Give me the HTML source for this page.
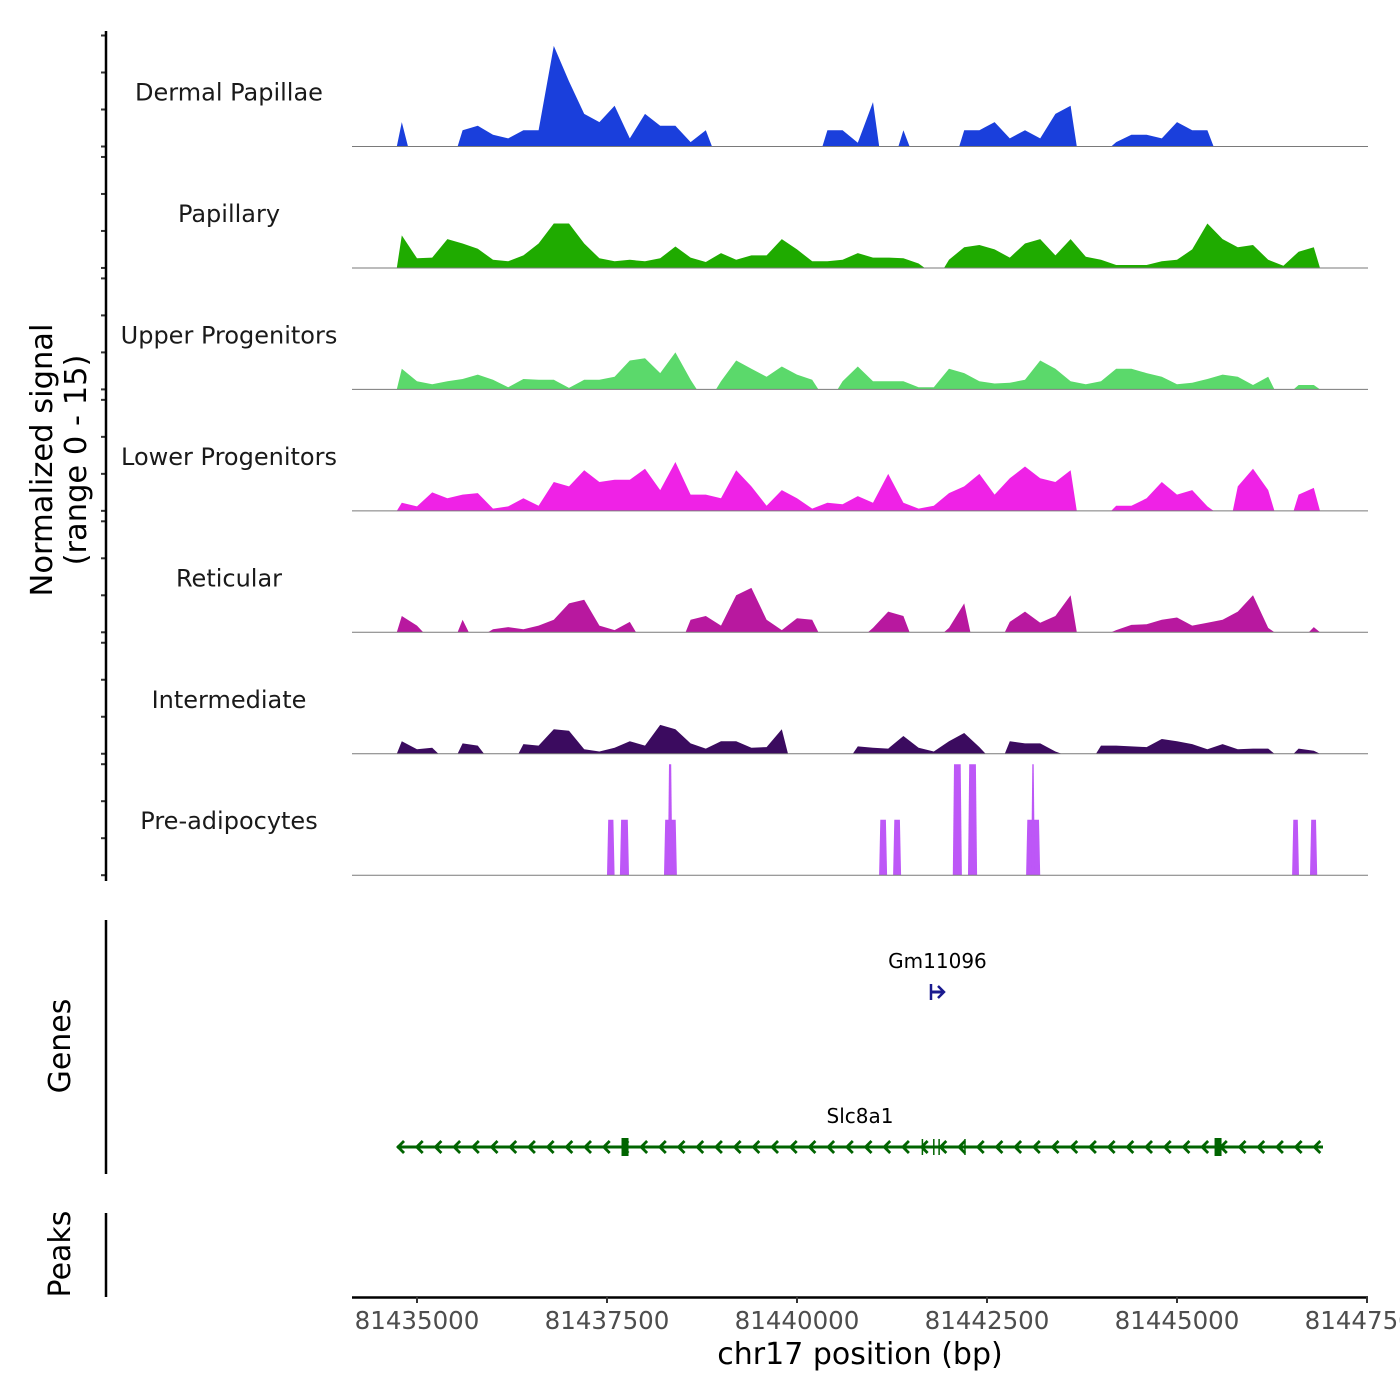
<!DOCTYPE html>
<html><head><meta charset="utf-8"><title>Coverage plot chr17</title>
<style>
html,body{margin:0;padding:0;background:#fff;}
svg{display:block;font-family:"DejaVu Sans","Liberation Sans",sans-serif;}
</style></head>
<body>
<svg id="chart" width="1400" height="1400" viewBox="0 0 1400 1400" xmlns="http://www.w3.org/2000/svg">
<rect x="0" y="0" width="1400" height="1400" fill="#ffffff"/>
<g id="tracks"></g>
<g id="genes"></g>
<g id="axes"></g>
<text x="58" y="460" transform="rotate(-90 58 460)" text-anchor="middle" font-size="30.5" fill="#000"><tspan x="58" dy="-6">Normalized signal</tspan><tspan x="58" dy="34">(range 0 - 15)</tspan></text>
<text x="70" y="1046" transform="rotate(-90 70 1046)" text-anchor="middle" font-size="30" fill="#000">Genes</text>
<text x="70" y="1254" transform="rotate(-90 70 1254)" text-anchor="middle" font-size="30" fill="#000">Peaks</text>
<text x="860" y="1364" text-anchor="middle" font-size="30" fill="#000">chr17 position (bp)</text>
</svg>
<script>
// ---- data ----
const trackNames = ["Dermal Papillae","Papillary","Upper Progenitors","Lower Progenitors","Reticular","Intermediate","Pre-adipocytes"];
const trackColors = ["#1a3fdc","#1fab00","#5bd96b","#ef22e6","#b8189f","#3b0b5f","#bd57f7"];
const binStart = 81434700;
const binSize = 200;
const dermalPapillae = [3.3,0,0,0,2.2,2.8,1.6,1.1,2.2,2.2,13.6,8.8,4.4,3.3,5.5,1.1,4.4,2.8,2.8,0.6,2.2,0,0,0,0,0,0,0,2.2,2.2,0.5,6,0,2.2,0,0,0,2.2,2.2,3.3,1.1,2.2,1.1,4.4,5.5,0,0,0.6,1.6,1.6,1.1,3.3,2.2,2.2,0,0,0,0,0,0,0,0];
const papillary = [4.4,1.3,1.4,3.9,3.3,2.6,1.1,0.9,1.7,3.3,6,6,3.3,1.3,0.9,1.1,0.9,1.3,2.9,1.4,0.8,2,1.1,1.7,1.7,3.9,2.5,0.9,0.9,1.1,2,1.4,1.4,1.3,0.6,0,1.1,2.8,3.1,2.5,1.4,3.3,3.9,1.7,3.9,1.5,1.1,0.4,0.4,0.4,0.9,1.1,2.5,6,3.9,2.8,3.1,1.1,0.3,2.2,2.8,0];
const upperProgenitors = [2.8,1.1,0.7,1.1,1.4,2,1.3,0.3,1.4,1.3,1.3,0.2,1.3,1.3,1.7,3.9,4.2,2.2,5,1.3,0,1.1,3.9,2.8,1.7,3.1,2,1.3,0,1.1,3.1,1.1,1.1,1.1,0.3,0.3,2.8,2.2,1.1,0.8,0.9,1.3,3.9,2.8,1.1,0.7,1.1,2.8,2.8,2.2,1.7,0.7,0.9,1.4,2,1.7,0.6,1.7,0,0.6,0.6,0];
const lowerProgenitors = [1.1,0.6,2.5,1.7,2.2,2.4,0.3,0.6,1.7,0.7,3.9,3.3,5.5,3.9,4.2,4.2,5.7,2.8,6.6,2.2,2.2,1.7,5.5,3.3,0.7,2.8,1.7,0.3,1.1,0.9,2,1.1,5,1.1,0.3,0.7,2.4,3.3,5,2.2,4.4,6,4.4,3.9,5.5,0,0,0.7,0.7,1.7,3.9,2.2,2.8,0.6,0,3.3,5.7,2.8,0,2.2,3.1,0];
const reticular = [2.2,0.9,0,0,1.7,0,0.4,0.7,0.4,0.9,1.7,3.9,4.4,0.9,0.3,1.4,0,0,0,1.7,2.2,0.9,5,6,1.7,0.3,1.9,1.7,0,0,0,0.6,2.8,2.2,0,0,0.6,3.9,0,0,1.4,2.8,1.3,2.2,5,0,0,0.3,1,1.1,1.7,2,0.9,1.3,1.7,2.8,5,0.6,0,0,0.7,0];
const intermediate = [1.7,0.6,0.8,0,1.4,1.1,0,0,1.3,1.1,3.3,3.1,0.6,0.3,0.8,1.7,1.1,3.9,3.3,1.4,0.7,1.7,1.7,0.8,0.9,3.3,0,0,0,0,1,0.8,0.7,2.4,0.8,0.3,1.7,2.8,0.9,0,1.7,1.4,1.4,0.3,0,0,1.1,1.1,1,0.9,2,1.7,1.3,0.6,1.3,0.6,0.7,0.7,0,0.7,0.4,0];
// pre-adipocytes as discrete blocks
const preAdipoStart = [81437500,81437670,81438250,81438300,81441080,81441265,81442050,81442250,81443015,81443080,81446515,81446750];
const preAdipoEnd   = [81437600,81437790,81438420,81438360,81441185,81441370,81442170,81442370,81443200,81443130,81446605,81446845];
const preAdipoValue = [7.5,7.5,7.5,15,7.5,7.5,15,15,7.5,15,7.5,7.5];
// genes
const geneNames = ["Gm11096","Slc8a1"];
const geneStart = [81441763,81434737];
const geneEnd = [81441934,81446921];
const geneStrand = ["+","-"];
const slcExonPos = [81437737,81445540];
const slcMarkPos = [81441650,81441800,81441870,81442210];
// axis ticks
const xTicks = [81435000,81437500,81440000,81442500,81445000,81447500];
const xTickLabels = ["81435000","81437500","81440000","81442500","81445000","81447500"];
const yTicks = [0,5,10,15];

// ---- scales ----
const NS = "http://www.w3.org/2000/svg";
function xScale(bp){ return 417 + (bp - 81435000) * 0.076; }
function trackBase(i){ return 146.5 + i * 121.45; }
function yScale(i, v){ return trackBase(i) - Math.min(v, 15) * 7.4; }
function mk(tag, attrs, parent){ const e = document.createElementNS(NS, tag); for (const k in attrs) e.setAttribute(k, attrs[k]); parent.appendChild(e); return e; }

const tracksG = document.getElementById('tracks');
const series = [dermalPapillae, papillary, upperProgenitors, lowerProgenitors, reticular, intermediate];

series.forEach((vals, i) => {
  const g = mk('g', {}, tracksG);
  
  
  const base = trackBase(i);
  let d = '';
  let open = false;
  for (let k = 0; k < vals.length; k++) {
    const cx = xScale(binStart + binSize * k + binSize / 2);
    const v = vals[k];
    if (v > 0) {
      if (!open) { d += 'M' + (cx - 5).toFixed(1) + ',' + base + ' '; open = true; }
      d += 'L' + cx.toFixed(1) + ',' + yScale(i, v).toFixed(1) + ' ';
    } else if (open) {
      d += 'L' + (cx - 9).toFixed(1) + ',' + base + ' Z '; open = false;
    }
  }
  if (open) d += 'L' + xScale(binStart + binSize * vals.length).toFixed(1) + ',' + base + ' Z';
  const p = mk('path', {d: d, fill: trackColors[i]}, g);
  
  
});

// pre-adipocytes
(function(){
  const i = 6;
  const g = mk('g', {}, tracksG);
  
  
  const base = trackBase(i);
  for (let k = 0; k < preAdipoStart.length; k++) {
    const x0 = xScale(preAdipoStart[k]), x1 = xScale(preAdipoEnd[k]);
    const y = yScale(i, preAdipoValue[k]);
    const pts = [[x0, base], [x0 + 1.2, y], [x1 - 1.2, y], [x1, base]].map(p => p[0].toFixed(1) + ',' + p[1].toFixed(1)).join(' ');
    const pg = mk('polygon', {points: pts, fill: trackColors[i]}, g);
    
    
  }
})();

// baselines, labels, y ticks
const axesG = document.getElementById('axes');
for (let i = 0; i < 7; i++) {
  const base = trackBase(i);
  const bl = mk('line', {x1: 352, x2: 1368, y1: base, y2: base, stroke: '#7a7a7a', 'stroke-width': 1}, axesG);
  
  
  const t = mk('text', {x: 229, y: base - 46, 'text-anchor': 'middle', 'font-size': 24, fill: '#1a1a1a'}, axesG);
  t.textContent = trackNames[i];
  
  
  yTicks.forEach(v => {
    const y = yScale(i, v);
    const tk = mk('line', {x1: 101, x2: 106, y1: y, y2: y, stroke: '#333', 'stroke-width': 2}, axesG);
    
    
  });
}
const yAxis = mk('line', {x1: 106, x2: 106, y1: 31, y2: 881, stroke: '#000', 'stroke-width': 2.5}, axesG);


const gAxis = mk('line', {x1: 106, x2: 106, y1: 920, y2: 1174, stroke: '#000', 'stroke-width': 2.5}, axesG);


const pAxis = mk('line', {x1: 106, x2: 106, y1: 1213, y2: 1297, stroke: '#000', 'stroke-width': 2.5}, axesG);



// x axis
const xAxis = mk('line', {x1: 352, x2: 1368, y1: 1297.5, y2: 1297.5, stroke: '#000', 'stroke-width': 2.5}, axesG);


xTicks.forEach((bp, k) => {
  const x = xScale(bp);
  const tk = mk('line', {x1: x, x2: x, y1: 1297, y2: 1303, stroke: '#333', 'stroke-width': 2}, axesG);
  
  
  const tl = mk('text', {x: x, y: 1329, 'text-anchor': 'middle', 'font-size': 24.5, fill: '#4d4d4d'}, axesG);
  tl.textContent = xTickLabels[k];
  
  
});

// genes
const genesG = document.getElementById('genes');
const geneY = [992, 1147];
const geneColors = ['#1a1a8f', '#006400'];
geneNames.forEach((name, k) => {
  const g = mk('g', {}, genesG);
  
  
  const x0 = xScale(geneStart[k]), x1 = xScale(geneEnd[k]), y = geneY[k], c = geneColors[k];
  const lab = mk('text', {x: (x0 + x1) / 2, y: y - 24, 'text-anchor': 'middle', 'font-size': 20, fill: '#000'}, g);
  lab.textContent = name;
  
  
  const ln = mk('line', {x1: x0, x2: x1, y1: y, y2: y, stroke: c, 'stroke-width': 3}, g);
  
  
  if (geneStrand[k] === '+') {
    mk('line', {x1: x0, x2: x0, y1: y - 8, y2: y + 8, stroke: c, 'stroke-width': 2.5}, g);
    mk('polyline', {points: (x1 - 6) + ',' + (y - 6) + ' ' + x1 + ',' + y + ' ' + (x1 - 6) + ',' + (y + 6), fill: 'none', stroke: c, 'stroke-width': 2.5}, g);
  } else {
    for (let x = x0 + 1; x < x1 - 8; x += 18.7) {
      mk('polyline', {points: (x + 6) + ',' + (y - 6) + ' ' + x + ',' + y + ' ' + (x + 6) + ',' + (y + 6), fill: 'none', stroke: c, 'stroke-width': 2.8}, g);
    }
    slcExonPos.forEach(bp => {
      const ex = mk('rect', {x: xScale(bp) - 3.5, y: y - 9, width: 7, height: 18, fill: c}, g);
      
      
    });
    slcMarkPos.forEach(bp => {
      mk('line', {x1: xScale(bp), x2: xScale(bp), y1: y - 8, y2: y + 8, stroke: c, 'stroke-width': 1.5}, g);
    });
  }
});
</script>
</body></html>
